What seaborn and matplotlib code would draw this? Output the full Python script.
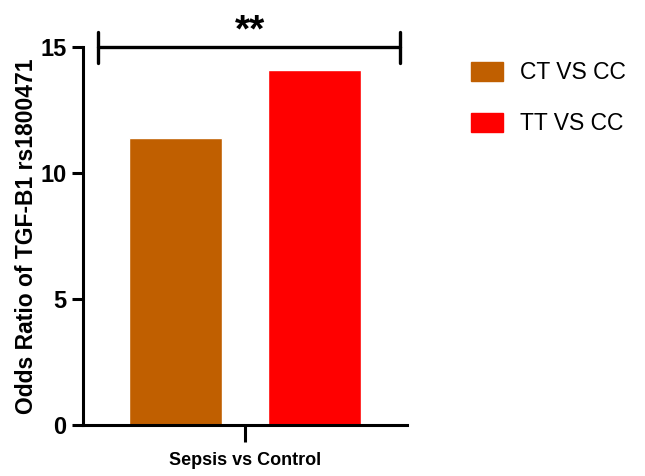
import matplotlib
matplotlib.use("Agg")
import matplotlib.pyplot as plt
import seaborn as sns
import pandas as pd
from matplotlib.patches import Patch

comparison = ["Sepsis vs Control", "Sepsis vs Control"]
genotype = ["CT VS CC", "TT VS CC"]
odds_ratio = [11.4, 14.1]
bar_colors = ["#C05F00", "#FF0000"]
yticks = [0, 5, 10, 15]
signif = "**"

df = pd.DataFrame({"comparison": comparison, "genotype": genotype, "odds": odds_ratio})

sns.set_theme(style="ticks")
plt.rcParams["font.family"] = ["Liberation Sans", "DejaVu Sans"]
plt.rcParams.update({"text.color": "black", "axes.labelcolor": "black",
                     "xtick.color": "black", "ytick.color": "black"})

fig = plt.figure(figsize=(6.45, 4.76), dpi=100)
ax = fig.add_axes([0.1287, 0.107, 0.502, 0.794])

sns.barplot(data=df, x="comparison", y="odds", hue="genotype", palette=bar_colors,
            width=1.2, gap=1/3, saturation=1, legend=False, ax=ax)

ax.set_xlim(-0.7, 0.7)
ax.set_ylim(0, 15)
ax.set_yticks(yticks)
ax.set_yticklabels([str(t) for t in yticks], fontsize=17, fontweight="bold", color="black")
ax.tick_params(axis="y", length=8, width=2.2, pad=4, color="black")
ax.tick_params(axis="x", length=12, width=2.2, color="black")
ax.set_xticklabels([""])
for s in ["top", "right"]:
    ax.spines[s].set_visible(False)
for s in ["left", "bottom"]:
    ax.spines[s].set_linewidth(2.2)
    ax.spines[s].set_color("black")

ax.set_xlabel("Sepsis vs Control", fontsize=13, fontweight="bold", labelpad=4, color="black")
ax.set_ylabel("Odds Ratio of TGF-B1 rs1800471", fontsize=16.5, fontweight="bold", color="black")
ax.yaxis.set_label_coords(-0.139, 0.5)

# significance bracket
x0, x1, yb = -0.635, 0.672, 15
ax.plot([x0, x1], [yb, yb], color="black", lw=2.4, clip_on=False)
ax.plot([x0, x0], [yb - 0.62, yb + 0.62], color="black", lw=2.4, clip_on=False)
ax.plot([x1, x1], [yb - 0.62, yb + 0.62], color="black", lw=2.4, clip_on=False)
ax.text(0.02, 15.22, signif, ha="center", va="baseline", fontsize=28, fontweight="bold",
        color="black", clip_on=False)

handles = [Patch(facecolor=c, edgecolor=c) for c in bar_colors]
leg = fig.legend(handles, genotype, loc="upper left", bbox_to_anchor=(0.730, 0.871), frameon=False,
                 fontsize=16.5, handlelength=1.4, handleheight=0.87, handletextpad=0.74,
                 labelspacing=1.22, borderpad=0, borderaxespad=0)
for t in leg.get_texts():
    t.set_color("black")

fig.savefig("out.png", dpi=100)
